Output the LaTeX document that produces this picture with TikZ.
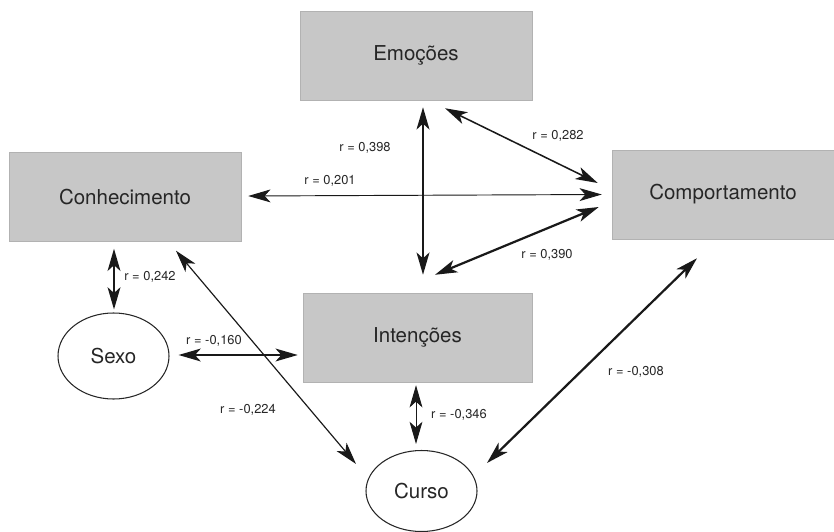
\documentclass[tikz,border=0pt]{standalone}
\usepackage{fontspec}
\setmainfont{TeX Gyre Heros}
\usetikzlibrary{positioning,calc,arrows.meta,shapes.geometric}

\begin{document}
\begin{tikzpicture}[x=0.03cm,y=-0.03cm,
    >={Stealth[length=19pt,width=11pt,inset=5pt]},
    caixa/.style={rectangle,fill=black!22,draw=black!30,line width=0.4pt,
      minimum width=6.96cm,minimum height=2.67cm,inner sep=0pt,
      text=black!85,font=\fontsize{17.5}{20}\selectfont},
    elipse/.style={ellipse,draw=black!85,line width=0.9pt,
      minimum width=3.33cm,minimum height=2.58cm,inner sep=0pt,
      text=black!85,font=\fontsize{17.5}{20}\selectfont},
    rotulo/.style={font=\fontsize{11}{13}\selectfont,text=black!85,inner sep=1pt},
    grossa/.style={<->,line width=1.9pt,draw=black!90},
    media/.style={<->,line width=1.3pt,draw=black!90},
    fina/.style={<->,line width=0.8pt,draw=black!90}]
  \useasboundingbox (0,0) rectangle (834,532);

  % variáveis
  \node[caixa] (emo) at (416,55.5) {Emoções};
  \node[caixa] (con) at (125,197) {Conhecimento};
  \node[caixa,minimum width=6.66cm] (comp) at (723,194.5) {Comportamento};
  \node[caixa,minimum width=6.87cm] (int) at (417.5,337.5) {Intenções};
  \node[elipse] (sexo) at (113.5,356) {Sexo};
  \node[elipse,minimum height=2.43cm] (curso) at (421.5,491) {Curso};

  % correlações
  \draw[grossa] ($(emo.south)+(7,7)$) -- ($(int.north)+(5.5,-18)$);
  \draw[media] ($(emo.south)+(29,8)$) -- ($(comp.west)+(-14,-11.5)$);
  \draw[fina] ($(con.east)+(7,-1)$) -- ($(comp.west)+(-10,0)$);
  \draw[grossa] ($(int.north)+(17.5,-18)$) -- ($(comp.west)+(-13,12.5)$);
  \draw[media] ($(con.south)+(-11,7)$) -- ($(sexo.north)+(0.5,-3)$);
  \draw[fina,line width=1pt] ($(con.south)+(51,9)$) -- ($(curso.north)+(-65.5,14)$);
  \draw[media] ($(sexo.east)+(9,-1)$) -- ($(int.west)+(-5,17.5)$);
  \draw[fina] ($(int.south)+(-1.5,3)$) -- ($(curso.north)+(-5.5,-6)$);
  \draw[grossa] ($(comp.south)+(-26,19)$) -- ($(curso.center)+(65.5,-28)$);

  % coeficientes
  \node[rotulo] (r1) at (365,148) {r = 0,398};
  \node[rotulo] (r2) at (558,136) {r = 0,282};
  \node[rotulo] (r3) at (330,181) {r = 0,201};
  \node[rotulo] (r4) at (547,255) {r = 0,390};
  \node[rotulo] (r5) at (150,277) {r = 0,242};
  \node[rotulo] (r6) at (248,410) {r = -0,224};
  \node[rotulo] (r7) at (214,341) {r = -0,160};
  \node[rotulo] (r8) at (459,415) {r = -0,346};
  \node[rotulo] (r9) at (636,372) {r = -0,308};
\end{tikzpicture}
\end{document}
